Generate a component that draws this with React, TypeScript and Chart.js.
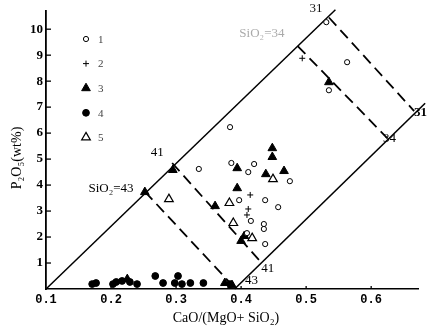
import React, { useEffect, useRef } from 'react';
import { Chart, registerables } from 'chart.js';
Chart.register(...registerables);

// ---- data ----
const xTicks = [0.1, 0.2, 0.3, 0.4, 0.5, 0.6];
const yTicks = [1, 2, 3, 4, 5, 6, 7, 8, 9, 10];
const legendLabels = ['1', '2', '3', '4', '5'];

const series1 = [
  { x: 0.531, y: 10.27 }, { x: 0.563, y: 8.73 }, { x: 0.535, y: 7.65 },
  { x: 0.383, y: 6.23 }, { x: 0.335, y: 4.62 }, { x: 0.385, y: 4.85 },
  { x: 0.42, y: 4.81 }, { x: 0.411, y: 4.5 }, { x: 0.475, y: 4.15 },
  { x: 0.397, y: 3.42 }, { x: 0.437, y: 3.42 }, { x: 0.457, y: 3.15 },
  { x: 0.415, y: 2.62 }, { x: 0.435, y: 2.5 }, { x: 0.435, y: 2.31 },
  { x: 0.409, y: 2.15 }, { x: 0.437, y: 1.73 },
];
const series2 = [
  { x: 0.414, y: 3.62 }, { x: 0.411, y: 3.08 }, { x: 0.409, y: 2.85 }, { x: 0.494, y: 8.88 },
];
const series3 = [
  { x: 0.252, y: 3.73 }, { x: 0.295, y: 4.58 }, { x: 0.36, y: 3.19 },
  { x: 0.394, y: 4.65 }, { x: 0.448, y: 5.08 }, { x: 0.448, y: 5.42 },
  { x: 0.438, y: 4.42 }, { x: 0.466, y: 4.54 }, { x: 0.394, y: 3.88 },
  { x: 0.405, y: 2.04 }, { x: 0.4, y: 1.85 }, { x: 0.535, y: 7.96 },
  { x: 0.225, y: 0.38 }, { x: 0.375, y: 0.23 }, { x: 0.386, y: 0.15 },
];
const series4 = [
  { x: 0.171, y: 0.19 }, { x: 0.177, y: 0.23 }, { x: 0.203, y: 0.19 },
  { x: 0.208, y: 0.27 }, { x: 0.217, y: 0.31 }, { x: 0.229, y: 0.27 },
  { x: 0.24, y: 0.19 }, { x: 0.268, y: 0.5 }, { x: 0.28, y: 0.23 },
  { x: 0.303, y: 0.5 }, { x: 0.298, y: 0.23 }, { x: 0.309, y: 0.19 },
  { x: 0.322, y: 0.23 }, { x: 0.342, y: 0.23 }, { x: 0.383, y: 0.19 },
];
const series5 = [
  { x: 0.289, y: 3.46 }, { x: 0.382, y: 3.31 }, { x: 0.449, y: 4.23 },
  { x: 0.388, y: 2.54 }, { x: 0.417, y: 1.96 },
];

const boundaryUpper = [{ x: 0.1, y: 0 }, { x: 0.545, y: 10.75 }];
const boundaryLower = [{ x: 0.39, y: 0 }, { x: 0.683, y: 7.15 }];
const iso31 = [{ x: 0.535, y: 10.45 }, { x: 0.666, y: 6.85 }];
const iso34 = [{ x: 0.487, y: 9.35 }, { x: 0.625, y: 5.8 }];
const iso41 = [{ x: 0.294, y: 4.85 }, { x: 0.43, y: 1.05 }];
const iso43 = [{ x: 0.252, y: 3.75 }, { x: 0.39, y: 0.05 }];

const annotations = [
  { text: '31', x: 0.515, y: 10.8, bold: false, color: '#111' },
  { text: 'SiO₂=34', x: 0.432, y: 9.85, bold: false, color: '#aaa' },
  { text: '31', x: 0.676, y: 6.8, bold: true, color: '#000' },
  { text: '34', x: 0.628, y: 5.8, bold: false, color: '#000' },
  { text: '41', x: 0.271, y: 5.27, bold: false, color: '#000' },
  { text: 'SiO₂=43', x: 0.2, y: 3.85, bold: false, color: '#000' },
  { text: '41', x: 0.441, y: 0.77, bold: false, color: '#000' },
  { text: '43', x: 0.416, y: 0.31, bold: false, color: '#000' },
];

const xTitle = 'CaO/(MgO+ SiO₂)';
const yTitle = 'P₂O₅(wt%)';

export default function App() {
  const ref = useRef<HTMLCanvasElement | null>(null);
  useEffect(() => {
    document.body.style.margin = '0';
    const canvas = ref.current!;
    const lineDs = (data: any[], dashed: boolean, width: number) => ({
      type: 'line' as const,
      data,
      showLine: true,
      borderColor: '#000',
      borderWidth: width,
      borderDash: dashed ? [11, 6] : [],
      pointRadius: 0,
      fill: false,
      clip: false as any,
      order: 10,
    });
    const pointDs = (data: any[], style: string, r: number, fill: string, bw: number) => ({
      type: 'scatter' as const,
      data,
      pointStyle: style,
      pointRadius: r,
      backgroundColor: fill,
      borderColor: '#000',
      borderWidth: bw,
      clip: false as any,
      order: 0,
    });
    const styles = [
      { style: 'circle', r: 2.6, fill: '#fff', bw: 1 },
      { style: 'cross', r: 3, fill: '#000', bw: 1 },
      { style: 'triangle', r: 5, fill: '#000', bw: 1 },
      { style: 'circle', r: 3.4, fill: '#000', bw: 1 },
      { style: 'triangle', r: 5, fill: '#fff', bw: 1.2 },
    ];

    function drawSym(ctx: CanvasRenderingContext2D, style: string, r: number, x: number, y: number) {
      ctx.beginPath();
      if (style === 'circle') {
        ctx.arc(x, y, r, 0, Math.PI * 2);
        ctx.fill();
        ctx.stroke();
      } else if (style === 'triangle') {
        const h = r * 1.5;
        ctx.moveTo(x, y - h * 2 / 3);
        ctx.lineTo(x + r * 0.87, y + h / 3);
        ctx.lineTo(x - r * 0.87, y + h / 3);
        ctx.closePath();
        ctx.fill();
        ctx.stroke();
      } else {
        ctx.moveTo(x - r, y);
        ctx.lineTo(x + r, y);
        ctx.moveTo(x, y - r);
        ctx.lineTo(x, y + r);
        ctx.stroke();
      }
    }

    const deco = {
      id: 'deco',
      afterDraw(chart: any) {
        const ctx = chart.ctx as CanvasRenderingContext2D;
        const xs = chart.scales.x;
        const ys = chart.scales.y;
        const area = chart.chartArea;
        ctx.save();
        // inward ticks
        ctx.strokeStyle = '#000';
        ctx.lineWidth = 1.3;
        yTicks.forEach((v) => {
          const py = ys.getPixelForValue(v);
          ctx.beginPath();
          ctx.moveTo(area.left, py);
          ctx.lineTo(area.left + 5, py);
          ctx.stroke();
        });
        xTicks.slice(1).forEach((v) => {
          const px = xs.getPixelForValue(v);
          ctx.beginPath();
          ctx.moveTo(px, area.bottom);
          ctx.lineTo(px, area.bottom - 3);
          ctx.stroke();
        });
        // annotations
        ctx.textAlign = 'center';
        ctx.textBaseline = 'middle';
        annotations.forEach((a) => {
          ctx.font = `${a.bold ? 'bold ' : ''}13px "Liberation Serif"`;
          ctx.fillStyle = a.color;
          ctx.fillText(a.text, xs.getPixelForValue(a.x), ys.getPixelForValue(a.y));
        });
        // legend
        const lx = 86;
        legendLabels.forEach((lab, i) => {
          const ly = 39 + i * 24.6;
          const st = styles[i];
          ctx.fillStyle = st.fill;
          ctx.strokeStyle = '#000';
          ctx.lineWidth = st.bw;
          drawSym(ctx, st.style, st.r, lx, ly);
          ctx.font = '11px "Liberation Serif"';
          ctx.fillStyle = '#444';
          ctx.textAlign = 'left';
          ctx.fillText(lab, 98, ly + 1);
        });
        // axis titles
        ctx.fillStyle = '#000';
        ctx.font = '14px "Liberation Serif"';
        ctx.textAlign = 'center';
        ctx.fillText(xTitle, 226, 318);
        ctx.translate(17, 158);
        ctx.rotate(-Math.PI / 2);
        ctx.fillText(yTitle, 0, 0);
        ctx.restore();
      },
    };

    const chart = new Chart(canvas, {
      type: 'scatter',
      data: {
        datasets: [
          lineDs(boundaryUpper, false, 1.5),
          lineDs(boundaryLower, false, 1.6),
          lineDs(iso31, true, 1.8),
          lineDs(iso34, true, 1.8),
          lineDs(iso41, true, 1.8),
          lineDs(iso43, true, 1.8),
          ...[series1, series2, series3, series4, series5].map((d, i) =>
            pointDs(d, styles[i].style, styles[i].r, styles[i].fill, styles[i].bw)
          ),
        ] as any,
      },
      options: {
        responsive: false,
        animation: false,
        devicePixelRatio: 1,
        layout: { padding: { top: 11, right: 10, left: 0, bottom: 0 } },
        plugins: { legend: { display: false }, tooltip: { enabled: false } },
        scales: {
          x: {
            type: 'linear',
            min: 0.1,
            max: 0.672,
            afterBuildTicks: (s: any) => { s.ticks = xTicks.map((v) => ({ value: v })); },
            afterFit: (s: any) => { s.height = 43; },
            grid: { display: false, drawTicks: false },
            border: { display: true, color: '#000', width: 1.6 },
            ticks: {
              color: '#000',
              padding: 4,
              maxRotation: 0,
              font: { family: '"Liberation Mono"', size: 12, weight: 'bold' },
              callback: (v: any) => Number(v).toFixed(1),
            },
          },
          y: {
            type: 'linear',
            min: 0,
            max: 10.7,
            afterBuildTicks: (s: any) => { s.ticks = yTicks.map((v) => ({ value: v })); },
            afterFit: (s: any) => { s.width = 46; },
            grid: { display: false, drawTicks: false },
            border: { display: true, color: '#000', width: 1.8 },
            ticks: {
              color: '#000',
              padding: 3,
              font: { family: '"Liberation Serif"', size: 13, weight: 'bold' },
              callback: (v: any) => String(v),
            },
          },
        },
      },
      plugins: [deco],
    } as any);
    return () => chart.destroy();
  }, []);
  return (
    <div style={{ width: 428, height: 332, background: '#fff' }}>
      <canvas ref={ref} width={428} height={332} style={{ display: 'block', width: 428, height: 332 }} />
    </div>
  );
}
